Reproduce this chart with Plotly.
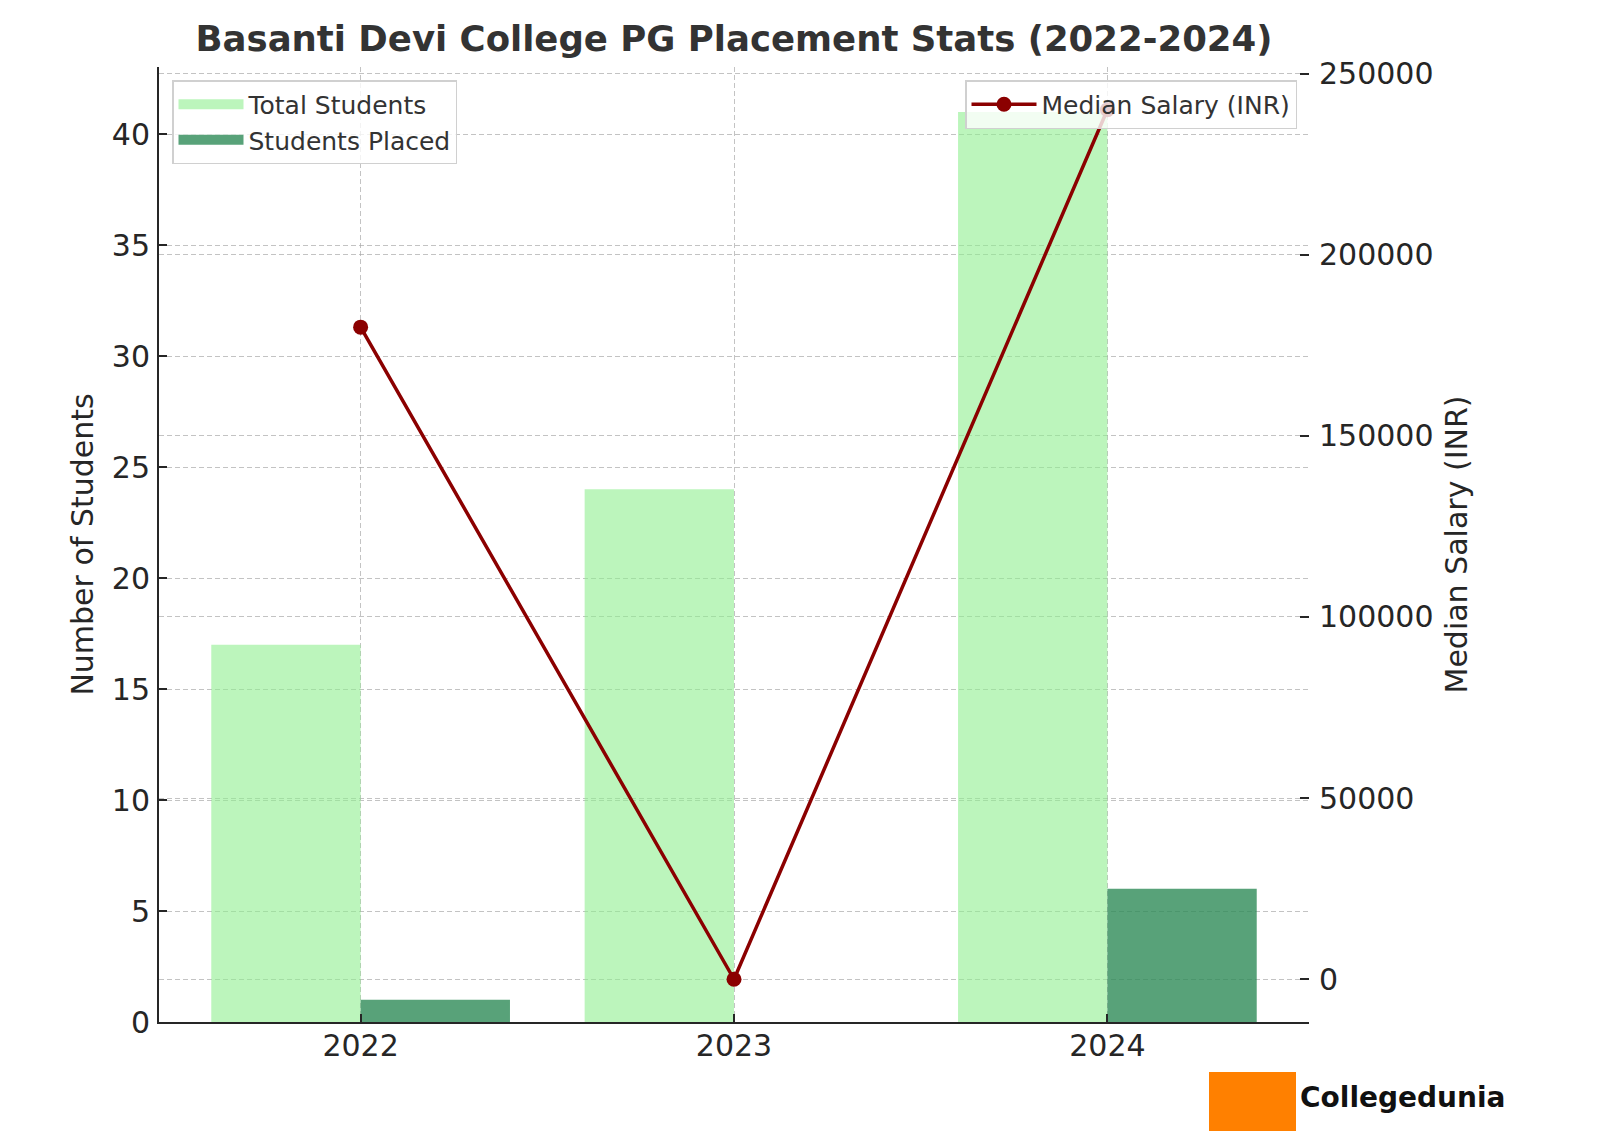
import plotly.graph_objects as go

years = ["2022", "2023", "2024"]
total_students = [17, 24, 41]
students_placed = [1, 0, 6]
median_salary = [180000, 0, 240000]

FONT = "DejaVu Sans"
TXT = "#262626"
GRID = "rgba(170,170,170,0.7)"
C_TOTAL = "rgba(144,238,144,0.6)"
C_PLACED = "rgba(46,139,87,0.8)"
C_LINE = "#8b0000"

# page body has an 8px default margin; figure sized to compensate
OFF = 8
W, H = 1600 - OFF, 1142 - OFF
PL, PR, PT, PB = 159, 1309, 67, 1022  # plot area in page pixels
ML, MT = PL - OFF, PT - OFF
MR, MB = W - (PR - OFF), H - (PB - OFF)
PW, PH = PR - PL, PB - PT


def px_x(px):  # page pixel x -> paper x
    return (px - PL) / PW


def px_y(py):  # page pixel y -> paper y
    return 1 - (py - PT) / PH


fig = go.Figure()
fig.add_trace(go.Bar(
    x=years, y=total_students, name="Total Students",
    marker=dict(color=C_TOTAL, line=dict(width=0)), showlegend=False,
))
fig.add_trace(go.Bar(
    x=years, y=students_placed, name="Students Placed",
    marker=dict(color=C_PLACED, line=dict(width=0)), showlegend=False,
))
# legend swatches (wide rectangles like the original)
fig.add_trace(go.Scatter(
    x=[None], y=[None], mode="lines", name="Total Students",
    line=dict(color=C_TOTAL, width=18), legend="legend",
))
fig.add_trace(go.Scatter(
    x=[None], y=[None], mode="lines", name="Students Placed",
    line=dict(color=C_PLACED, width=18), legend="legend",
))
fig.add_trace(go.Scatter(
    x=years, y=median_salary, name="Median Salary (INR)", yaxis="y2",
    mode="lines+markers",
    line=dict(color=C_LINE, width=3.5),
    marker=dict(color=C_LINE, size=15),
    legend="legend2",
))

GRIDDASH = "5px,3px"
fig.update_layout(
    width=W, height=H,
    margin=dict(l=ML, r=MR, t=MT, b=MB),
    paper_bgcolor="white", plot_bgcolor="white",
    font=dict(family=FONT, size=30, color=TXT),
    barmode="group", bargap=0.2, bargroupgap=0,
    title=dict(
        text="<b>Basanti Devi College PG Placement Stats (2022-2024)</b>",
        x=((PL + PR) / 2 - OFF) / W, xanchor="center",
        y=1 - (39 - OFF) / H, yanchor="middle", yref="container",
        font=dict(family=FONT, size=35.5, color="#333333"),
    ),
    xaxis=dict(
        type="category", range=[-0.54, 2.54],
        showline=True, linecolor=TXT, linewidth=2,
        ticks="inside", ticklen=8, tickwidth=2, tickcolor=TXT,
        ticklabelstandoff=-4,
        showgrid=True, gridcolor=GRID, griddash=GRIDDASH, gridwidth=1,
        tickfont=dict(size=30, color=TXT),
        layer="above traces",
    ),
    yaxis=dict(
        range=[0, 43.03], dtick=5, tick0=0,
        showline=True, linecolor=TXT, linewidth=2,
        ticks="inside", ticklen=8, tickwidth=2, tickcolor=TXT,
        ticklabelstandoff=1,
        showgrid=True, gridcolor=GRID, griddash=GRIDDASH, gridwidth=1,
        zeroline=False,
        title=dict(text="Number of Students", font=dict(size=30, color=TXT), standoff=9),
        tickfont=dict(size=30, color=TXT),
        layer="above traces",
    ),
    yaxis2=dict(
        overlaying="y", side="right",
        range=[-11800, 251800], dtick=50000, tick0=0, tickformat="d",
        showline=False,
        ticks="inside", ticklen=9, tickwidth=2, tickcolor=TXT,
        ticklabelstandoff=9,
        showgrid=True, gridcolor=GRID, griddash=GRIDDASH, gridwidth=1,
        zeroline=False,
        title=dict(text="Median Salary (INR)", font=dict(size=30, color=TXT), standoff=13),
        tickfont=dict(size=30, color=TXT),
    ),
    legend=dict(
        x=px_x(172), y=px_y(80), xanchor="left", yanchor="top",
        bgcolor="rgba(255,255,255,0.8)", bordercolor="#d0d0d0", borderwidth=1.5,
        font=dict(size=25, color="#333333"), traceorder="normal",
        itemwidth=65,
    ),
    legend2=dict(
        x=px_x(1297), y=px_y(80), xanchor="right", yanchor="top",
        bgcolor="rgba(255,255,255,0.8)", bordercolor="#d0d0d0", borderwidth=1.5,
        font=dict(size=25, color="#333333"),
        itemwidth=65,
    ),
    showlegend=True,
)

# Watermark logo (approximation)
fig.add_shape(type="rect", xref="paper", yref="paper",
              x0=px_x(1209), x1=px_x(1296),
              y0=px_y(1131), y1=px_y(1072),
              fillcolor="#ff8000", line=dict(width=0))
fig.add_annotation(xref="paper", yref="paper",
                   x=px_x(1298), y=px_y(1097),
                   xanchor="left", yanchor="middle", showarrow=False,
                   text="<b>Collegedunia</b>",
                   font=dict(family="DejaVu Sans", size=28, color="#111111"))

fig.write_html("out.html")
